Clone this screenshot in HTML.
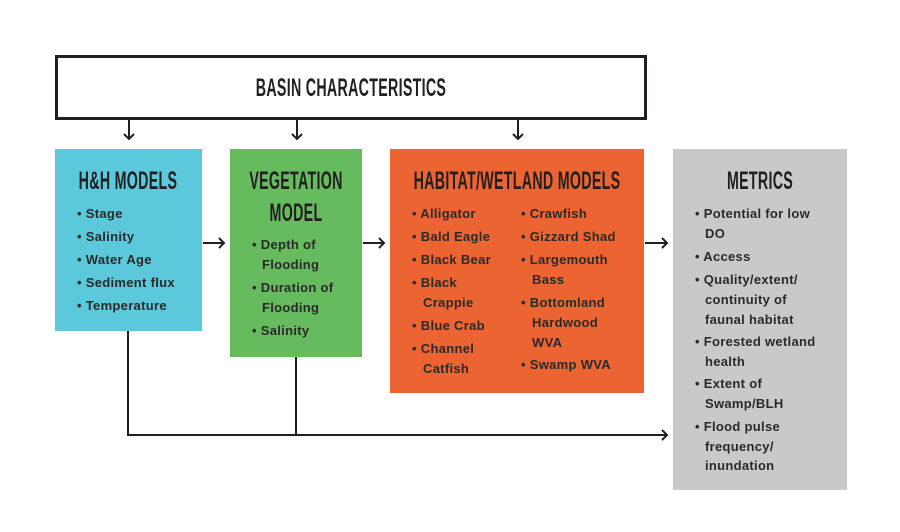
<!DOCTYPE html>
<html><head><style>
body{margin:0;width:900px;height:532px;background:#fff;position:relative;overflow:hidden;font-family:"Liberation Sans",sans-serif;}
.box{position:absolute;}
.h{position:absolute;font-weight:bold;font-size:25px;line-height:26px;color:#231f20;white-space:nowrap;transform:translateX(-50%) scaleX(0.57);letter-spacing:0.5px;}
.t{position:absolute;font-size:13px;font-weight:bold;line-height:16px;color:#2a2a2a;white-space:nowrap;letter-spacing:0.3px;}
</style></head><body>
<div class="box" style="left:55px;top:55px;width:586px;height:59px;border:3px solid #231f20;"></div>
<div class="h" style="left:351px;top:75px;">BASIN CHARACTERISTICS</div>
<div class="box" style="left:55px;top:149px;width:147px;height:182px;background:#5bc8dc;"></div>
<div class="box" style="left:230px;top:149px;width:132px;height:208px;background:#66bb5f;"></div>
<div class="box" style="left:390px;top:149px;width:254px;height:244px;background:#ec6431;"></div>
<div class="box" style="left:673px;top:149px;width:174px;height:341px;background:#c8c9cb;"></div>
<svg width="900" height="532" style="position:absolute;left:0;top:0">
<g stroke="#231f20" stroke-width="2" fill="none">
<line x1="129" y1="119" x2="129" y2="139"/><polyline points="124,134 129,139 134,134"/>
<line x1="297" y1="119" x2="297" y2="139"/><polyline points="292,134 297,139 302,134"/>
<line x1="518" y1="119" x2="518" y2="139"/><polyline points="513,134 518,139 523,134"/>
<line x1="203" y1="243" x2="224" y2="243"/><polyline points="219,238 224,243 219,248"/>
<line x1="363" y1="243" x2="384" y2="243"/><polyline points="379,238 384,243 379,248"/>
<line x1="645" y1="243" x2="667" y2="243"/><polyline points="662,238 667,243 662,248"/>
<line x1="128" y1="331" x2="128" y2="435"/>
<line x1="296" y1="357" x2="296" y2="435"/>
<line x1="127" y1="435" x2="667" y2="435"/><polyline points="662,430 667,435 662,440"/>
</g></svg>
<div class="h" style="left:128px;top:168px;">H&amp;H MODELS</div>
<div class="h" style="left:296px;top:168px;">VEGETATION</div>
<div class="h" style="left:296px;top:200px;">MODEL</div>
<div class="h" style="left:517px;top:168px;">HABITAT/WETLAND MODELS</div>
<div class="h" style="left:760px;top:168px;">METRICS</div>

<div class="t" style="left:77px;top:206px;">• Stage</div>
<div class="t" style="left:77px;top:229px;">• Salinity</div>
<div class="t" style="left:77px;top:252px;">• Water Age</div>
<div class="t" style="left:77px;top:275px;">• Sediment flux</div>
<div class="t" style="left:77px;top:298px;">• Temperature</div>

<div class="t" style="left:252px;top:237px;">• Depth of</div>
<div class="t" style="left:262px;top:257px;">Flooding</div>
<div class="t" style="left:252px;top:280px;">• Duration of</div>
<div class="t" style="left:262px;top:300px;">Flooding</div>
<div class="t" style="left:252px;top:323px;">• Salinity</div>

<div class="t" style="left:412px;top:206px;">• Alligator</div>
<div class="t" style="left:412px;top:229px;">• Bald Eagle</div>
<div class="t" style="left:412px;top:252px;">• Black Bear</div>
<div class="t" style="left:412px;top:275px;">• Black</div>
<div class="t" style="left:423px;top:295px;">Crappie</div>
<div class="t" style="left:412px;top:318px;">• Blue Crab</div>
<div class="t" style="left:412px;top:341px;">• Channel</div>
<div class="t" style="left:423px;top:361px;">Catfish</div>

<div class="t" style="left:521px;top:206px;">• Crawfish</div>
<div class="t" style="left:521px;top:229px;">• Gizzard Shad</div>
<div class="t" style="left:521px;top:252px;">• Largemouth</div>
<div class="t" style="left:532px;top:272px;">Bass</div>
<div class="t" style="left:521px;top:295px;">• Bottomland</div>
<div class="t" style="left:532px;top:315px;">Hardwood</div>
<div class="t" style="left:532px;top:335px;">WVA</div>
<div class="t" style="left:521px;top:357px;">• Swamp WVA</div>

<div class="t" style="left:695px;top:206px;">• Potential for low</div>
<div class="t" style="left:705px;top:226px;">DO</div>
<div class="t" style="left:695px;top:249px;">• Access</div>
<div class="t" style="left:695px;top:272px;">• Quality/extent/</div>
<div class="t" style="left:705px;top:292px;">continuity of</div>
<div class="t" style="left:705px;top:312px;">faunal habitat</div>
<div class="t" style="left:695px;top:334px;">• Forested wetland</div>
<div class="t" style="left:705px;top:354px;">health</div>
<div class="t" style="left:695px;top:376px;">• Extent of</div>
<div class="t" style="left:705px;top:396px;">Swamp/BLH</div>
<div class="t" style="left:695px;top:419px;">• Flood pulse</div>
<div class="t" style="left:705px;top:439px;">frequency/</div>
<div class="t" style="left:705px;top:458px;">inundation</div>
</body></html>
